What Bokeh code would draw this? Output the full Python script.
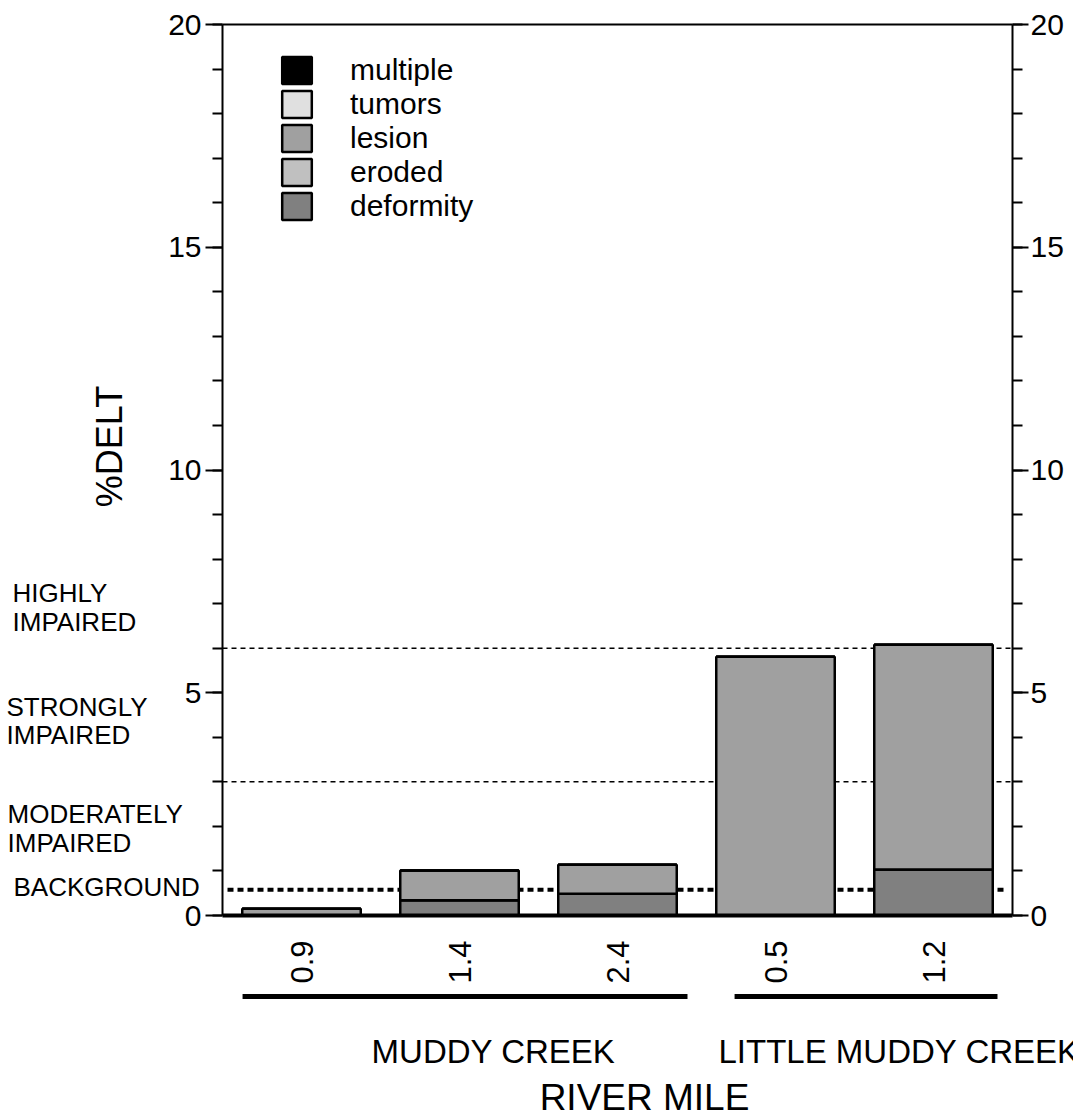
from math import pi
from bokeh.plotting import figure
from bokeh.models import (Range1d, LinearAxis, FixedTicker, Legend, LegendItem, ColumnDataSource)
from bokeh.core.properties import value
from bokeh.embed import file_html
from bokeh.resources import INLINE

# ---------------- data ----------------
river_miles = ["0.9", "1.4", "2.4", "0.5", "1.2"]
deformity = [0.0, 0.34, 0.49, 0.0, 1.03]
eroded = [0.0, 0.0, 0.0, 0.0, 0.0]
lesion = [0.15, 0.67, 0.65, 5.81, 5.05]
tumors = [0.0, 0.0, 0.0, 0.0, 0.0]
multiple = [0.0, 0.0, 0.0, 0.0, 0.0]
categories = ["deformity", "eroded", "lesion", "tumors", "multiple"]
groups = ["MUDDY CREEK", "LITTLE MUDDY CREEK"]
group_spans = [(0.127, 2.943), (3.241, 4.905)]
impairment_levels = [6.0, 3.0]
background_level = 0.58
y_ticks = [0, 5, 10, 15, 20]
y_minor = list(range(0, 21))
band_names = ["HIGHLY", "IMPAIRED", "STRONGLY", "IMPAIRED", "MODERATELY", "IMPAIRED", "BACKGROUND"]

colors = {"deformity": "#808080", "eroded": "#c0c0c0", "lesion": "#a0a0a0",
          "tumors": "#e0e0e0", "multiple": "#000000"}
FONT = "Liberation Sans"

# ---------------- layout (pixels) ----------------
W, H = 1073, 1120
FL, FR, FT, FB = 222, 1012, 24, 915          # where the value axes sit
n = len(river_miles)
ppx = (FR - FL) / n                          # px per category
ppy = (FB - FT) / 20.0                       # px per %DELT unit
def dx(px):
    return (px - FL) / ppx
def dy(py):
    return (FB - py) / ppy
BL = 0.4   # baseline correction (fraction of font size) for text glyphs

xs = [i + 0.5 for i in range(n)]
src = ColumnDataSource(dict(x=xs, deformity=deformity, eroded=eroded, lesion=lesion,
                            tumors=tumors, multiple=multiple))

p = figure(width=W, height=H, x_range=Range1d(dx(0), dx(W)), y_range=Range1d(dy(H), dy(0)),
           x_axis_type=None, y_axis_type=None, output_backend="svg", toolbar_location=None,
           min_border=0, min_border_left=0, min_border_right=0, min_border_top=0, min_border_bottom=0)
p.grid.visible = False
p.outline_line_color = None

# value axes (fixed at the data edges)
def yaxis(loc):
    return LinearAxis(ticker=FixedTicker(ticks=y_ticks, minor_ticks=y_minor),
                      fixed_location=loc, bounds=(0, 20),
                      major_tick_in=0, major_tick_out=17, minor_tick_in=0, minor_tick_out=10,
                      axis_line_width=2, major_tick_line_width=2, minor_tick_line_width=2,
                      major_label_text_font_size="30px", major_label_text_font=FONT,
                      major_label_text_color="black", major_label_standoff=4)
ya = yaxis(0)
p.add_layout(ya, "left")
yb = yaxis(n)
yb.major_tick_out = 16
yb.major_label_standoff = 2
p.add_layout(yb, "right")

xaxis = LinearAxis(ticker=FixedTicker(ticks=xs, minor_ticks=[]), fixed_location=0, bounds=(0, n),
                   major_label_overrides={x: m for x, m in zip(xs, river_miles)},
                   major_label_orientation=pi / 2, major_tick_line_color=None,
                   minor_tick_line_color=None, axis_line_width=4,
                   major_label_text_font_size="31px", major_label_text_font=FONT,
                   major_label_text_color="black", major_label_standoff=19)
p.add_layout(xaxis, "below")

# top border of the plotting box
p.segment(x0=[0], y0=[20], x1=[n], y1=[20], line_color="black", line_width=2)

# reference lines
p.segment(x0=[0] * len(impairment_levels), y0=impairment_levels, x1=[n] * len(impairment_levels),
          y1=impairment_levels, line_color="black", line_width=1.5, line_dash="5 4")
p.segment(x0=[dx(227)], y0=[background_level], x1=[dx(1003)], y1=[background_level],
          line_color="black", line_width=4, line_dash="6 4")

# bars
rs = p.vbar_stack(categories, x="x", width=0.75, source=src,
                  fill_color=[colors[c] for c in categories], line_color="black", line_width=2.5)

items = [LegendItem(label=c, renderers=[r]) for c, r in zip(categories, rs)][::-1]
legend = Legend(items=items, location=(278, H - 223), padding=0, margin=0, spacing=0,
                glyph_width=37, glyph_height=34, label_standoff=35,
                label_text_font_size="30px", label_text_font=FONT, label_text_color="black",
                border_line_color=None, background_fill_alpha=0)
p.add_layout(legend)

# impairment band labels (left margin)
fs_band = 26
band_px = [(12, 603), (12, 632), (6, 717), (6, 745), (7, 824), (7, 853), (13, 897)]
p.text(x=[dx(a) for a, b in band_px], y=[dy(b - BL * fs_band) for a, b in band_px], text=band_names,
       text_font=value(FONT), text_font_size=value(f"{fs_band}px"), text_align="left",
       text_baseline="alphabetic", text_color="black")

# y title
fs_title = 36
p.text(x=[dx(123 - BL * fs_title)], y=[dy(446)], text=["%DELT"], angle=pi / 2,
       text_font=value(FONT), text_font_size=value(f"{fs_title}px"), text_align="center",
       text_baseline="alphabetic", text_color="black")

# group underlines and names
p.segment(x0=[a for a, b in group_spans], y0=[dy(996)] * 2, x1=[b for a, b in group_spans],
          y1=[dy(996)] * 2, line_color="black", line_width=5)
fs_grp = 33
p.text(x=[dx(493)], y=[dy(1064 - BL * fs_grp)], text=[groups[0]], text_font=value(FONT),
       text_font_size=value(f"{fs_grp}px"), text_align="center", text_baseline="alphabetic",
       text_color="black")
p.text(x=[dx(718)], y=[dy(1064 - BL * fs_grp)], text=[groups[1]], text_font=value(FONT),
       text_font_size=value(f"{fs_grp}px"), text_align="left", text_baseline="alphabetic",
       text_color="black")
fs_x = 37
p.text(x=[dx(644)], y=[dy(1112 - BL * fs_x)], text=["RIVER MILE"], text_font=value(FONT),
       text_font_size=value(f"{fs_x}px"), text_align="center", text_baseline="alphabetic",
       text_color="black")

open("out.html", "w").write(file_html(p, INLINE))
